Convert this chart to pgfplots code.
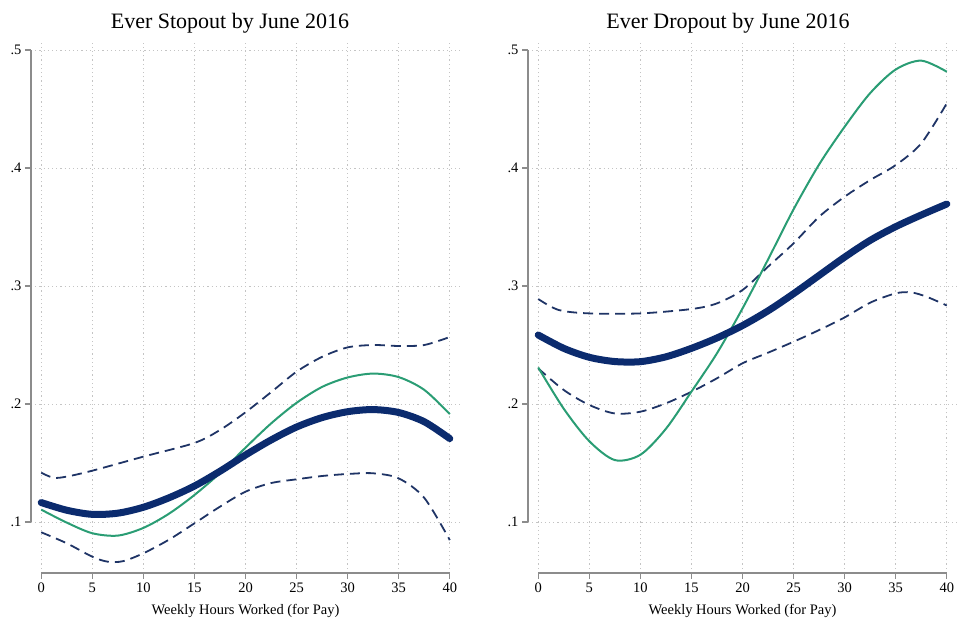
\documentclass[border=0pt]{standalone}
\usepackage{pgfplots}
\pgfplotsset{compat=1.18}
\usepackage{pgfplotstable}
\usepackage{fontspec}
\setmainfont{Liberation Serif}
\definecolor{navyc}{HTML}{0B2B6E}
\definecolor{dashc}{HTML}{1F3466}
\definecolor{greenc}{HTML}{2A9D74}
\definecolor{axgray}{HTML}{8C8C8C}
\definecolor{gridc}{HTML}{C4C4C4}

\pgfplotstableread{
x y
0 0.1165
2.5 0.1100
5 0.1065
7.5 0.1075
10 0.1125
12.5 0.1205
15 0.1305
17.5 0.1430
20 0.1568
22.5 0.1695
25 0.1805
27.5 0.1885
30 0.1935
32.5 0.1953
35 0.1928
37.5 0.1850
40 0.1707
}\LT
\pgfplotstableread{
x y
0 0.1105
2.5 0.0995
5 0.0905
7.5 0.0885
10 0.0950
12.5 0.1070
15 0.1229
17.5 0.1415
20 0.1630
22.5 0.1835
25 0.2010
27.5 0.2145
30 0.2225
32.5 0.2258
35 0.2228
37.5 0.2120
40 0.1915
}\LG
\pgfplotstableread{
x y
0 0.1418
1.2 0.1375
2.5 0.1385
5 0.1435
10 0.1554
15 0.1670
17.5 0.1780
20 0.1930
22.5 0.2100
25 0.2274
27.5 0.2400
30 0.2480
32.5 0.2500
35 0.2492
37.5 0.2500
40 0.2568
}\LU
\pgfplotstableread{
x y
0 0.0913
2.5 0.0820
5 0.0706
6.5 0.0664
8 0.0668
10 0.0735
12.5 0.0850
15 0.0989
17.5 0.1130
20 0.1257
22.5 0.1330
25 0.1362
27.5 0.1390
30 0.1407
32.5 0.1413
35 0.1370
37.5 0.1205
40 0.0847
}\LL
\pgfplotstableread{
x y
0 0.2585
2.5 0.2472
5 0.2396
7.5 0.2360
10 0.2359
12.5 0.2400
15 0.2472
17.5 0.2560
20 0.2665
22.5 0.2790
25 0.2935
27.5 0.3090
30 0.3245
32.5 0.3387
35 0.3503
37.5 0.3602
40 0.3695
}\RT
\pgfplotstableread{
x y
0 0.2310
2.5 0.1960
5 0.1685
7.5 0.1525
10 0.1570
12.5 0.1790
15 0.2105
17.5 0.2430
20 0.2810
22.5 0.3225
25 0.3650
27.5 0.4030
30 0.4350
32.5 0.4635
35 0.4835
37.5 0.4910
40 0.4816
}\RG
\pgfplotstableread{
x y
0 0.2890
2 0.2797
5 0.2768
10 0.2768
15 0.2805
17.5 0.2853
20 0.2966
22.5 0.3164
25 0.3362
27.5 0.3587
30 0.3757
32.5 0.3898
35 0.4025
37.5 0.4209
40 0.4548
}\RU
\pgfplotstableread{
x y
0 0.2302
2.5 0.2119
5 0.1992
7.5 0.1920
10 0.1935
12.5 0.2006
15 0.2104
17.5 0.2218
20 0.2345
22.5 0.2435
25 0.2528
27.5 0.2627
30 0.2734
32.5 0.2859
35 0.2938
36.5 0.2946
38 0.2910
40 0.2835
}\RL

\pgfplotsset{
  panel/.style={
    scale only axis, width=429pt, height=533pt,
    xmin=-1, xmax=41, ymin=0.0568, ymax=0.5085,
    xtick={0,5,...,40},
    ytick={0.1,0.2,0.3,0.4,0.5},
    yticklabels={.1,.2,.3,.4,.5},
    xtick pos=left, ytick pos=left,
    tick align=outside,
    major tick length=6pt,
    tick style={axgray, line width=1.2pt},
    axis line style={draw=none},
    grid=major,
    grid style={gridc, line width=0.9pt, dash pattern=on 1.2pt off 3pt},
    ticklabel style={font=\fontsize{14.5}{16}\selectfont},
    /pgf/number format/assume math mode=true,
    xlabel={Weekly Hours Worked (for Pay)},
    xlabel style={font=\fontsize{14.5}{16}\selectfont, at={(axis description cs:0.5,0)}, anchor=base, yshift=-42pt},
    clip=false,
  },
  thickl/.style={navyc, line width=7pt, line cap=round, smooth},
  greenl/.style={greenc, line width=2pt, smooth},
  dashl/.style={dashc, line width=1.8pt, dash pattern=on 10pt off 6pt, smooth},
}

\begin{document}
\begin{tikzpicture}
\useasboundingbox (0,0) rectangle (957pt,620pt);
\begin{axis}[panel, at={(31pt,47pt)}, anchor=south west]
\draw[axgray, line width=1.2pt] (axis cs:-1,0.1) -- (axis cs:-1,0.5);
\draw[axgray, line width=1.2pt] (axis cs:0,0.0568) -- (axis cs:40,0.0568);
\addplot[dashl] table[x=x,y=y] {\LU};
\addplot[dashl] table[x=x,y=y] {\LL};
\addplot[greenl] table[x=x,y=y] {\LG};
\addplot[thickl] table[x=x,y=y] {\LT};
\end{axis}
\begin{axis}[panel, at={(528pt,47pt)}, anchor=south west]
\draw[axgray, line width=1.2pt] (axis cs:-1,0.1) -- (axis cs:-1,0.5);
\draw[axgray, line width=1.2pt] (axis cs:0,0.0568) -- (axis cs:40,0.0568);
\addplot[dashl] table[x=x,y=y] {\RU};
\addplot[dashl] table[x=x,y=y] {\RL};
\addplot[greenl] table[x=x,y=y] {\RG};
\addplot[thickl] table[x=x,y=y] {\RT};
\end{axis}
\node[anchor=base, font=\fontsize{22}{26}\selectfont] at (230pt,591pt) {Ever Stopout by June 2016};
\node[anchor=base, font=\fontsize{22}{26}\selectfont] at (728pt,591pt) {Ever Dropout by June 2016};
\end{tikzpicture}
\end{document}
